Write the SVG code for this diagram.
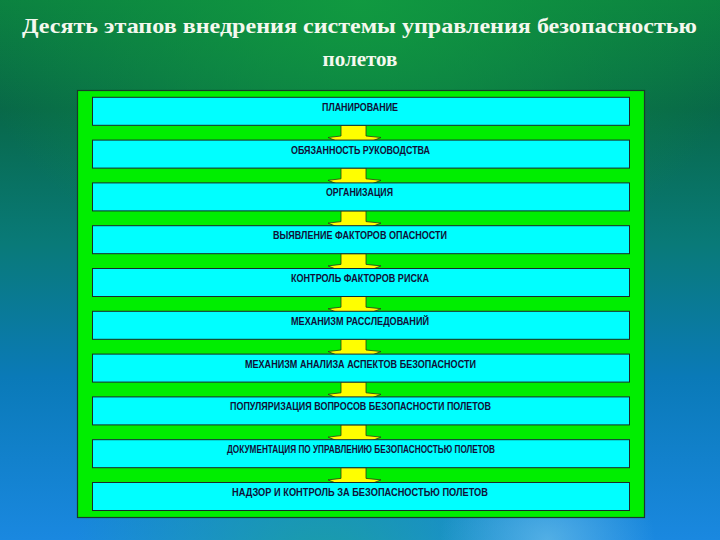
<svg xmlns="http://www.w3.org/2000/svg" width="720" height="540" viewBox="0 0 720 540">
<defs>
<linearGradient id="bg" x1="0" y1="0" x2="0" y2="1">
<stop offset="0" stop-color="#0b8040"/>
<stop offset="0.2" stop-color="#086848"/>
<stop offset="0.45" stop-color="#097a78"/>
<stop offset="0.7" stop-color="#0a7ab8"/>
<stop offset="1" stop-color="#1a88e0"/>
</linearGradient>
<radialGradient id="topglow" cx="0.5" cy="0.0" r="0.55">
<stop offset="0" stop-color="#12a040" stop-opacity="0.8"/>
<stop offset="1" stop-color="#12a040" stop-opacity="0"/>
</radialGradient>
<radialGradient id="botglow" cx="0.45" cy="1.05" r="0.35">
<stop offset="0" stop-color="#1aa0a0" stop-opacity="0.9"/>
<stop offset="1" stop-color="#1aa0a0" stop-opacity="0"/>
</radialGradient>
<radialGradient id="botlight" cx="0.76" cy="1.0" r="0.15">
<stop offset="0" stop-color="#60b8e8" stop-opacity="0.8"/>
<stop offset="1" stop-color="#60b8e8" stop-opacity="0"/>
</radialGradient>
<style>
.title{font-family:"Liberation Serif","Times New Roman",serif;font-weight:bold;font-size:21px;fill:#f4f8ee}
.box{fill:#00ffff;stroke:#1a2a2a;stroke-width:1}
.lbl{font-family:"Liberation Sans",Arial,sans-serif;font-weight:bold;font-size:10.5px;fill:#101038;text-anchor:middle}
.arr{fill:#ffff00;stroke:#2a3a1a;stroke-width:0.8}
</style>
</defs>
<rect width="720" height="540" fill="url(#bg)"/>
<rect width="720" height="540" fill="url(#topglow)"/>
<rect width="720" height="540" fill="url(#botglow)"/>
<rect width="720" height="540" fill="url(#botlight)"/>
<text class="title" x="22" y="33" textLength="675" lengthAdjust="spacingAndGlyphs">Десять этапов внедрения системы управления безопасностью</text>
<text class="title" x="360" y="66" text-anchor="middle">полетов</text>
<rect id="panel" x="77.5" y="90.5" width="567" height="427" fill="#00ee00" stroke="#1a3a2a" stroke-width="1.2"/>
<g id="connectors">
<polygon class="arr" points="341,125.3 366,125.3 366,136 381,137.5 354,148 328,137.5 341,136"/>
<polygon class="arr" points="341,168.1 366,168.1 366,178.8 381,180.3 354,190.8 328,180.3 341,178.8"/>
<polygon class="arr" points="341,210.9 366,210.9 366,221.6 381,223.1 354,233.6 328,223.1 341,221.6"/>
<polygon class="arr" points="341,253.7 366,253.7 366,264.4 381,265.9 354,276.4 328,265.9 341,264.4"/>
<polygon class="arr" points="341,296.5 366,296.5 366,307.2 381,308.7 354,319.2 328,308.7 341,307.2"/>
<polygon class="arr" points="341,339.3 366,339.3 366,350 381,351.5 354,362 328,351.5 341,350"/>
<polygon class="arr" points="341,382.1 366,382.1 366,392.8 381,394.3 354,404.8 328,394.3 341,392.8"/>
<polygon class="arr" points="341,424.9 366,424.9 366,435.6 381,437.1 354,447.6 328,437.1 341,435.6"/>
<polygon class="arr" points="341,467.7 366,467.7 366,478.4 381,479.9 354,490.4 328,479.9 341,478.4"/>
</g>
<g id="n1"><rect class="box" x="92.5" y="97.3" width="537" height="28"/><text class="lbl" x="360" y="110.8" textLength="76" lengthAdjust="spacingAndGlyphs">ПЛАНИРОВАНИЕ</text></g>
<g id="n2"><rect class="box" x="92.5" y="140.1" width="537" height="28"/><text class="lbl" x="360.5" y="153.6" textLength="139" lengthAdjust="spacingAndGlyphs">ОБЯЗАННОСТЬ  РУКОВОДСТВА</text></g>
<g id="n3"><rect class="box" x="92.5" y="182.9" width="537" height="28"/><text class="lbl" x="359.5" y="196.4" textLength="67" lengthAdjust="spacingAndGlyphs">ОРГАНИЗАЦИЯ</text></g>
<g id="n4"><rect class="box" x="92.5" y="225.7" width="537" height="28"/><text class="lbl" x="360" y="239.2" textLength="174" lengthAdjust="spacingAndGlyphs">ВЫЯВЛЕНИЕ  ФАКТОРОВ  ОПАСНОСТИ</text></g>
<g id="n5"><rect class="box" x="92.5" y="268.5" width="537" height="28"/><text class="lbl" x="360" y="282" textLength="138" lengthAdjust="spacingAndGlyphs">КОНТРОЛЬ  ФАКТОРОВ  РИСКА</text></g>
<g id="n6"><rect class="box" x="92.5" y="311.3" width="537" height="28"/><text class="lbl" x="360" y="324.8" textLength="138" lengthAdjust="spacingAndGlyphs">МЕХАНИЗМ  РАССЛЕДОВАНИЙ</text></g>
<g id="n7"><rect class="box" x="92.5" y="354.1" width="537" height="28"/><text class="lbl" x="360.5" y="367.6" textLength="231" lengthAdjust="spacingAndGlyphs">МЕХАНИЗМ  АНАЛИЗА  АСПЕКТОВ  БЕЗОПАСНОСТИ</text></g>
<g id="n8"><rect class="box" x="92.5" y="396.9" width="537" height="28"/><text class="lbl" x="360.5" y="410.4" textLength="261" lengthAdjust="spacingAndGlyphs">ПОПУЛЯРИЗАЦИЯ  ВОПРОСОВ  БЕЗОПАСНОСТИ  ПОЛЕТОВ</text></g>
<g id="n9"><rect class="box" x="92.5" y="439.7" width="537" height="28"/><text class="lbl" x="361" y="453.2" textLength="268" lengthAdjust="spacingAndGlyphs">ДОКУМЕНТАЦИЯ  ПО  УПРАВЛЕНИЮ  БЕЗОПАСНОСТЬЮ  ПОЛЕТОВ</text></g>
<g id="n10"><rect class="box" x="92.5" y="482.5" width="537" height="28"/><text class="lbl" x="360" y="496" textLength="256" lengthAdjust="spacingAndGlyphs">НАДЗОР  И  КОНТРОЛЬ  ЗА  БЕЗОПАСНОСТЬЮ  ПОЛЕТОВ</text></g>
</svg>
